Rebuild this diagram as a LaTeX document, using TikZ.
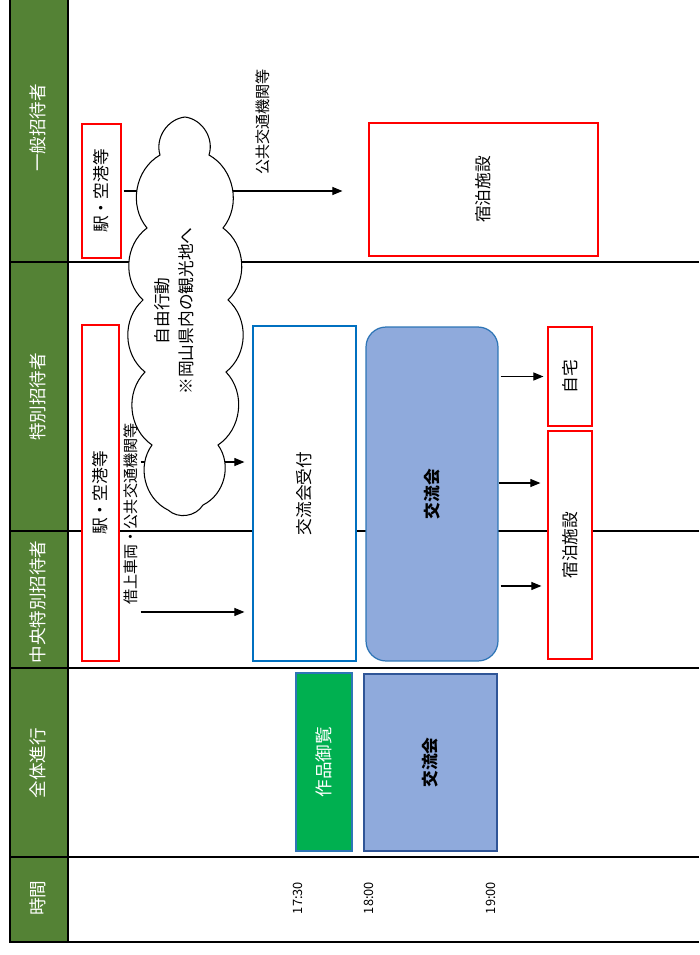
\documentclass[tikz,border=0pt]{standalone}
\usepackage{fontspec}
\usepackage{graphicx}
\setmainfont{Noto Sans CJK JP}
\usetikzlibrary{arrows.meta}
\definecolor{hdgreen}{HTML}{548235}
\definecolor{viewgreen}{HTML}{00B050}
\definecolor{partyblue}{HTML}{8FAADC}
\definecolor{edgeblue}{HTML}{2E75B6}
\definecolor{recblue}{HTML}{0070C0}
\definecolor{darkblue}{HTML}{2F5597}
\newcommand{\vt}[1]{\rotatebox{90}{#1}}
\begin{document}
\begin{tikzpicture}[x=0.02cm,y=-0.02cm,font=\fontsize{9.5}{13.6}\selectfont,
frame/.style={line width=1.6pt},
head/.style={text=white,font=\fontsize{10}{12}\selectfont,inner sep=0pt},
redbox/.style={draw=red,line width=0.7pt,fill=white,inner sep=0pt},
lbl/.style={inner sep=0pt,font=\fontsize{8.6}{10}\selectfont},
timelbl/.style={inner sep=0pt,font=\fontsize{7.3}{9}\selectfont},
puff/.style={bend left=50},
arrow/.style={-{Triangle[length=0.2cm,width=0.16cm]},line width=0.6pt}]
\useasboundingbox (0,0) rectangle (699,955);
\fill[hdgreen] (10,0) rectangle (68,942);
\draw[frame] (10,0) -- (10,942) -- (699,942); \draw[frame] (68,0) -- (68,942);
\draw[frame] (10,262) -- (699,262); \draw[frame] (10,531) -- (699,531);
\draw[frame] (10,668) -- (699,668); \draw[frame] (10,857) -- (699,857);
\node[head] (hgen) at (38,128) {\vt{一般招待者}};
\node[head] (hspe) at (38,397) {\vt{特別招待者}};
\node[head] (hcen) at (38,602) {\vt{中央特別招待者}};
\node[head] (hall) at (38,763) {\vt{全体進行}};
\node[head] (htime) at (38,898) {\vt{時間}};
\node[redbox,minimum width=0.78cm,minimum height=2.68cm] (sta1) at (101.5,191) {\vt{駅・空港等}};
\node[redbox,minimum width=0.74cm,minimum height=6.72cm] (sta2) at (100.5,493) {\vt{駅・空港等}};
\node[redbox,minimum width=4.58cm,minimum height=2.66cm] (hotel1) at (483.5,189.5) {\vt{宿泊施設}};
\node[draw=recblue,line width=0.7pt,fill=white,minimum width=2.06cm,minimum height=6.7cm] (recep) at (304.5,493.5) {\vt{交流会受付}};
\node[draw=edgeblue,line width=0.7pt,fill=partyblue,rounded corners=0.4cm,minimum width=2.64cm,minimum height=6.68cm,font=\fontsize{9.5}{12}\bfseries] (party) at (432,494) {\vt{交流会}};
\node[redbox,minimum width=0.88cm,minimum height=1.98cm] (home) at (570,376.5) {\vt{自宅}};
\node[redbox,minimum width=0.88cm,minimum height=4.56cm] (hotel2) at (570,545) {\vt{宿泊施設}};
\node[draw=edgeblue,line width=0.6pt,fill=viewgreen,text=white,minimum width=1.12cm,minimum height=3.56cm,font=\fontsize{10}{12}\selectfont] (view) at (324,762) {\vt{作品御覧}};
\node[draw=darkblue,line width=0.6pt,fill=partyblue,minimum width=2.66cm,minimum height=3.54cm,font=\fontsize{9.5}{12}\bfseries] (party2) at (430.5,762.5) {\vt{交流会}};
\draw[arrow,shorten <=0.04cm,shorten >=0.52cm] (sta1.east) -- (sta1.east -| hotel1.west);
\draw[arrow,shorten <=0.42cm,shorten >=0.16cm] ([yshift=0.62cm]sta2.east) -- ([yshift=0.62cm]sta2.east -| recep.west);
\draw[arrow,shorten <=0.42cm,shorten >=0.16cm] ([yshift=-2.38cm]sta2.east) -- ([yshift=-2.38cm]sta2.east -| recep.west);
\draw[arrow,shorten <=0.04cm,shorten >=0.08cm] (party.east |- home) -- (home);
\draw[arrow,shorten >=0.14cm] ([yshift=0.22cm]party.east) -- ([yshift=0.22cm]party.east -| hotel2.west);
\draw[arrow,shorten <=0.04cm,shorten >=0.12cm] ([yshift=-1.84cm]party.east) -- ([yshift=-1.84cm]party.east -| hotel2.west);
\draw[fill=white,line width=0.6pt] (185,117) to[puff] (209,155) to[puff] (223,228) to[puff] (228,300) to[puff] (226,372) to[puff] (218,445) to[puff] (203,505) to[puff] (168,510) to[puff] (152,445) to[puff] (145,372) to[puff] (143,300) to[puff] (147,228) to[puff] (160,155) to[puff] (185,117) -- cycle;
\node[inner sep=0pt] (free) at (176,311) {\vt{\begin{tabular}{@{}c@{}}自由行動\\※岡山県内の観光地へ\end{tabular}}};
\node[lbl] (lpub) at (263,122) {\vt{公共交通機関等}};
\node[lbl] (lbus) at (131,514) {\vt{借上車両・公共交通機関等}};
\node[timelbl] (t1730) at (298,898) {\vt{17:30}};
\node[timelbl] (t1800) at (369,898) {\vt{18:00}};
\node[timelbl] (t1900) at (491,898) {\vt{19:00}};
\end{tikzpicture}
\end{document}
